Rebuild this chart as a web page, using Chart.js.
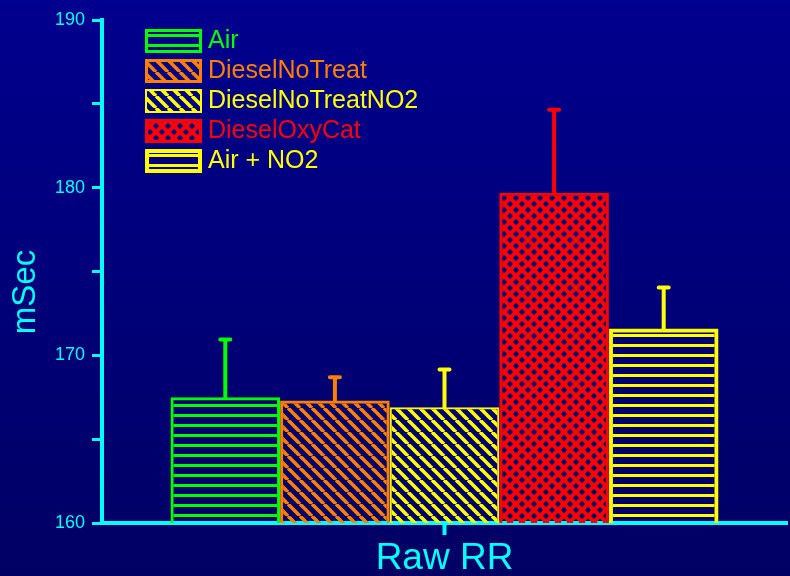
<!DOCTYPE html>
<html>
<head>
<meta charset="utf-8">
<script src="https://cdn.jsdelivr.net/npm/chart.js@4.4.0/dist/chart.umd.min.js"></script>
<style>
  html, body { margin: 0; padding: 0; background: #000080; }
  #rr-chart { display: block; }
</style>
</head>
<body>
<canvas id="rr-chart" width="790" height="576"></canvas>
<script>
// data
const categories = ['Raw RR'];
const seriesNames = ['Air', 'DieselNoTreat', 'DieselNoTreatNO2', 'DieselOxyCat', 'Air + NO2'];
const means = [167.5, 167.3, 166.9, 179.7, 171.6];
const errors = [3.45, 1.4, 2.25, 4.95, 2.45];
const seriesColors = ['#00ff00', '#ff8000', '#ffff00', '#ff0000', '#ffff00'];
const hatchTypes = ['horizontal', 'diagonal', 'diagonal', 'cross', 'horizontal'];
const borderWidths = [3, 3, 2, 3, 4];
const yTickLabels = [160, 170, 180, 190];
const yTitle = 'mSec';

const cyan = '#00ffff';
const fontFamily = '"Liberation Sans", Arial, sans-serif';

// hatch fill for a bar, built on a small tile
function makeHatch(type, color) {
    const size = type === 'horizontal' ? 10 : 12;
    const tile = document.createElement('canvas');
    tile.width = size;
    tile.height = size;
    const t = tile.getContext('2d');
    t.strokeStyle = color;
    if (type === 'horizontal') {
        t.fillStyle = color;
        t.fillRect(0, 4, size, 3);
    } else if (type === 'diagonal') {
        t.lineWidth = 3.6;
        for (const x0 of [-size, 0, size]) {
            t.beginPath();
            t.moveTo(x0, 0);
            t.lineTo(x0 + size, size);
            t.stroke();
        }
    } else {
        t.lineWidth = 4;
        for (const x0 of [-size, 0, size]) {
            t.beginPath();
            t.moveTo(x0, 0);
            t.lineTo(x0 + size, size);
            t.stroke();
            t.beginPath();
            t.moveTo(x0 + size, 0);
            t.lineTo(x0, size);
            t.stroke();
        }
    }
    return t.createPattern(tile, 'repeat');
}

const datasets = seriesNames.map((name, i) => ({
    label: name,
    data: [means[i]],
    errorBars: [errors[i]],
    backgroundColor: makeHatch(hatchTypes[i], seriesColors[i]),
    borderColor: seriesColors[i],
    borderWidth: borderWidths[i],
    borderSkipped: 'start',
    barPercentage: 1,
    categoryPercentage: 0.8
}));

// dark blue background
const backgroundPlugin = {
    id: 'bluePanel',
    beforeDraw(chart) {
        const ctx = chart.ctx;
        const g = ctx.createLinearGradient(0, 0, 0, chart.height);
        g.addColorStop(0, '#00008e');
        g.addColorStop(1, '#000064');
        ctx.save();
        ctx.fillStyle = g;
        ctx.fillRect(0, 0, chart.width, chart.height);
        ctx.restore();
    }
};

// upper error bars
const errorBarPlugin = {
    id: 'upperErrors',
    afterDatasetsDraw(chart) {
        const ctx = chart.ctx;
        const yScale = chart.scales.y;
        ctx.save();
        ctx.lineWidth = 4;
        ctx.lineCap = 'round';
        chart.data.datasets.forEach((ds, i) => {
            chart.getDatasetMeta(i).data.forEach((bar, j) => {
                const top = yScale.getPixelForValue(ds.data[j] + ds.errorBars[j]);
                ctx.strokeStyle = ds.borderColor;
                ctx.beginPath();
                ctx.moveTo(bar.x, bar.y);
                ctx.lineTo(bar.x, top);
                ctx.moveTo(bar.x - 5, top);
                ctx.lineTo(bar.x + 5, top);
                ctx.stroke();
            });
        });
        ctx.restore();
    }
};

// legend inside the plot with hatched swatches, plus the y title
const hatchLegendPlugin = {
    id: 'hatchLegend',
    afterDraw(chart) {
        const ctx = chart.ctx;
        const left = chart.chartArea.left + 43;
        ctx.save();
        ctx.font = '25px ' + fontFamily;
        ctx.textBaseline = 'middle';
        chart.data.datasets.forEach((ds, i) => {
            const top = chart.chartArea.top + 9 + i * 30;
            const bw = ds.borderWidth;
            ctx.fillStyle = ds.backgroundColor;
            ctx.fillRect(left, top, 57, 24);
            ctx.lineWidth = bw;
            ctx.strokeStyle = ds.borderColor;
            ctx.strokeRect(left + bw / 2, top + bw / 2, 57 - bw, 24 - bw);
            ctx.fillStyle = ds.borderColor;
            ctx.fillText(ds.label, left + 63, top + 12);
        });

        ctx.translate(26, 292);
        ctx.rotate(-Math.PI / 2);
        ctx.font = '33px ' + fontFamily;
        ctx.textAlign = 'center';
        ctx.fillStyle = cyan;
        ctx.fillText(yTitle, 0, 0);
        ctx.restore();
    }
};

const ctx = document.getElementById('rr-chart').getContext('2d');
new Chart(ctx, {
    type: 'bar',
    data: {
        labels: categories,
        datasets: datasets
    },
    options: {
        responsive: false,
        animation: false,
        layout: { padding: { top: 20, right: 3, left: 0, bottom: 0 } },
        plugins: {
            legend: { display: false },
            tooltip: { enabled: false }
        },
        scales: {
            x: {
                afterFit: scale => { scale.height = 53; },
                grid: {
                    display: true,
                    drawOnChartArea: false,
                    offset: false,
                    tickLength: 12,
                    tickColor: cyan,
                    tickWidth: 4
                },
                border: { color: cyan, width: 4 },
                ticks: {
                    color: cyan,
                    padding: 5,
                    font: { family: fontFamily, size: 37, lineHeight: 1 }
                }
            },
            y: {
                min: 160,
                max: 190,
                afterFit: scale => { scale.width = 102; },
                grid: {
                    display: true,
                    drawOnChartArea: false,
                    tickLength: 10,
                    tickColor: cyan,
                    tickWidth: 3
                },
                border: { color: cyan, width: 4 },
                ticks: {
                    stepSize: 5,
                    color: cyan,
                    padding: 7,
                    font: { family: fontFamily, size: 18, lineHeight: 1 },
                    callback: value => yTickLabels.includes(value) ? String(value) : ''
                }
            }
        }
    },
    plugins: [backgroundPlugin, errorBarPlugin, hatchLegendPlugin]
});
</script>
</body>
</html>
